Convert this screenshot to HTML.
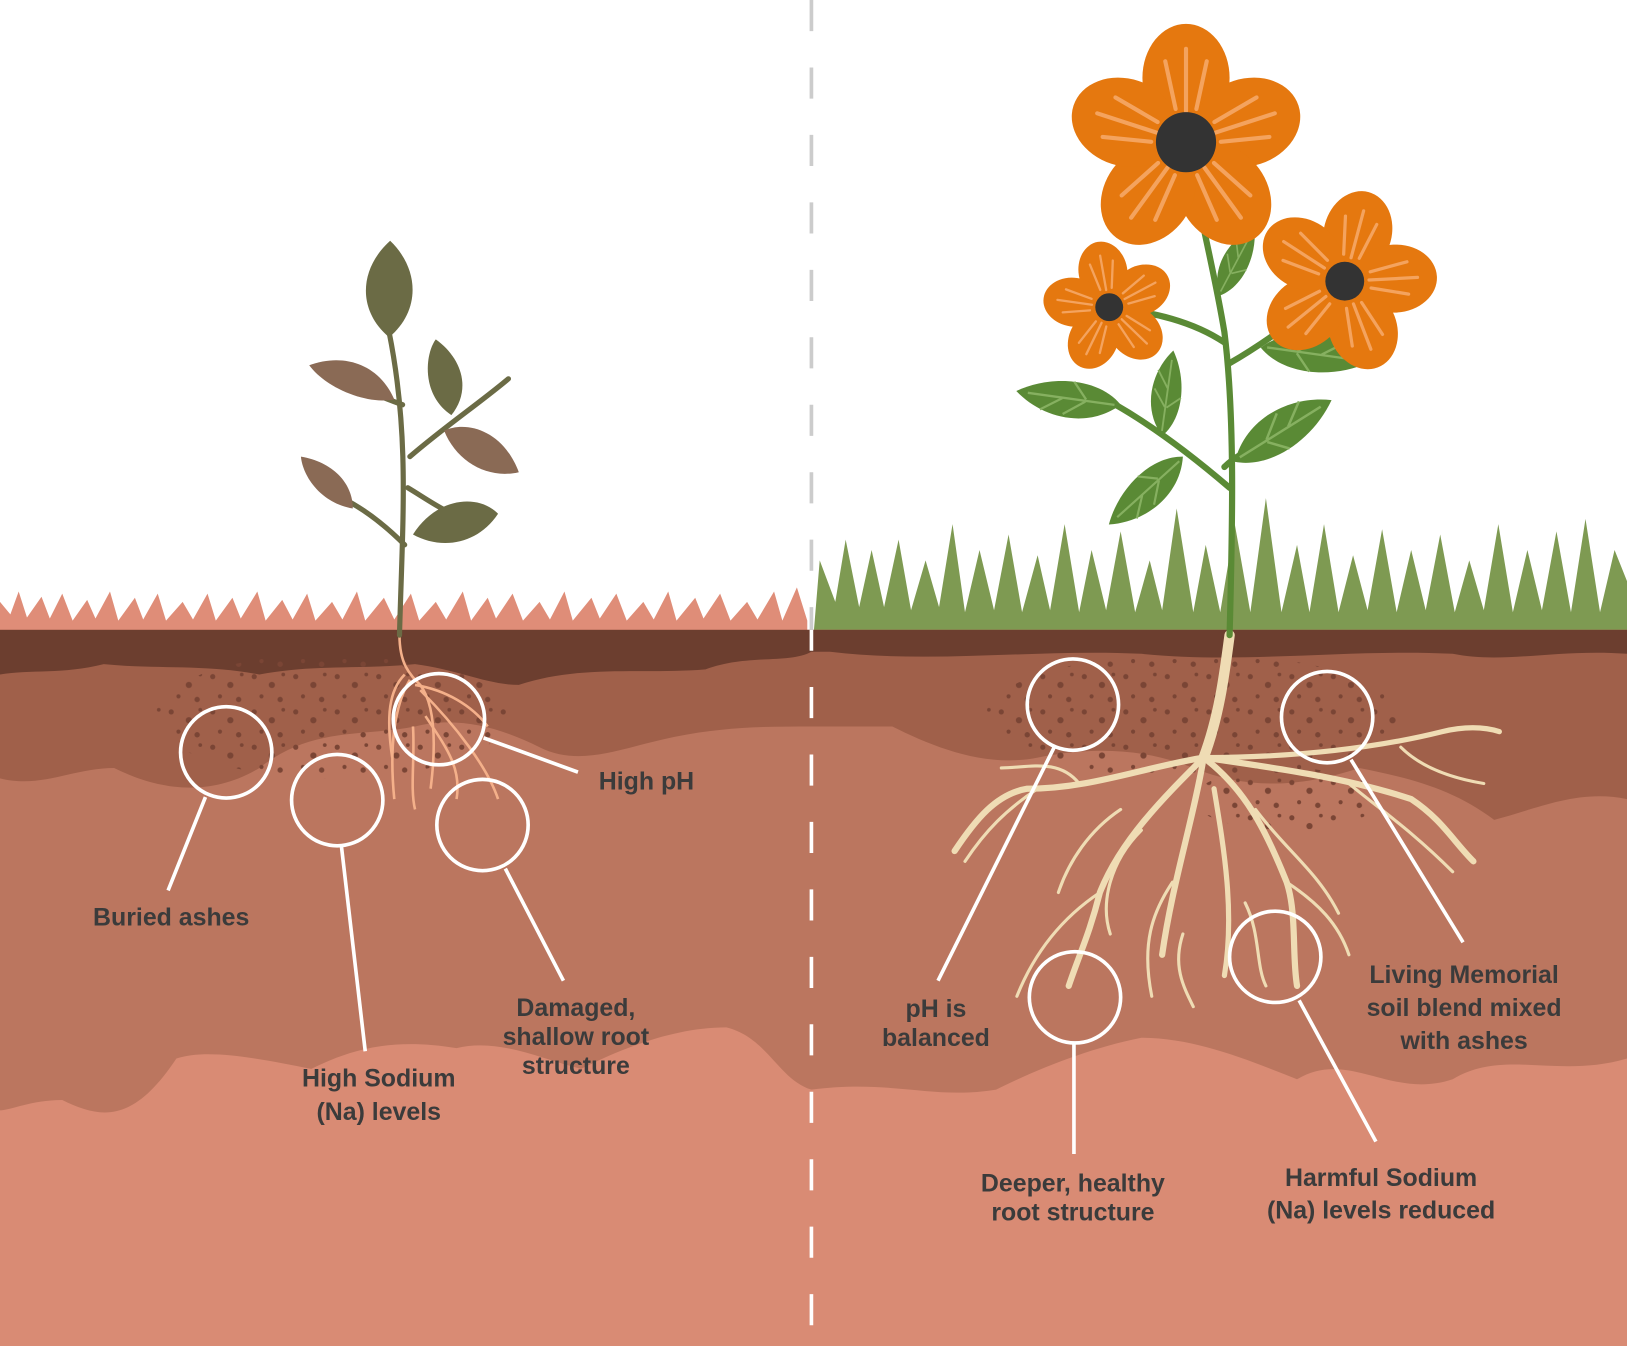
<!DOCTYPE html>
<html><head><meta charset="utf-8"><style>
html,body{margin:0;padding:0;background:#fff}
svg{display:block}
text{font-family:"Liberation Sans",sans-serif;font-weight:bold;fill:#3b3b3b;font-size:24px;text-anchor:middle}
</style></head><body>
<svg width="1627" height="1346" viewBox="0 0 1568 1297" preserveAspectRatio="none" xmlns="http://www.w3.org/2000/svg">
<defs>
<pattern id="dots" width="40" height="34" patternUnits="userSpaceOnUse">
<circle cx="5" cy="6" r="2.5" fill="#7a4535"/><circle cx="22" cy="14" r="3" fill="#7a4535"/><circle cx="33" cy="4" r="1.8" fill="#7a4535"/><circle cx="12" cy="25" r="2" fill="#7a4535"/><circle cx="30" cy="28" r="2.6" fill="#7a4535"/>
</pattern>
<g id="petal"><ellipse cx="0" cy="-62" rx="42" ry="52" fill="#e5780f"/><path d="M0 -30 L0 -90 M-10 -32 L-20 -78 M10 -32 L20 -78" stroke="#f4a35e" stroke-width="4" stroke-linecap="round"/></g>
<g id="leafG"><path d="M0 0 C20 -30 60 -35 90 -20 C65 5 25 15 0 0Z" fill="#5a8a35"/><path d="M5 -2 L80 -18 M30 -8 L45 -25 M50 -12 L65 -28 M30 -6 L45 5" stroke="#86b060" stroke-width="2"/></g>
</defs>
<rect width="1568" height="1297" fill="#fff"/>
<path d="M0 612 L0 580 L10 592 L18 570 L26 595 L40 575 L48 596 L60 572 L70 598 L84 578 L92 596 L106 570 L114 598 L130 576 L138 597 L152 572 L160 598 L176 580 L186 597 L200 572 L208 598 L224 576 L232 596 L248 570 L256 598 L272 578 L282 597 L296 572 L304 598 L320 580 L330 597 L344 570 L352 598 L370 576 L380 597 L396 572 L404 598 L420 580 L430 597 L446 570 L454 598 L470 576 L478 596 L494 572 L504 598 L520 580 L530 597 L544 570 L552 598 L570 576 L578 596 L594 572 L604 598 L620 580 L630 597 L644 570 L652 598 L670 576 L678 596 L694 572 L704 598 L720 580 L730 597 L746 570 L754 598 L768 566 L778 598 L778 612Z" fill="#df8d78"/>
<path d="M784 612 L790 540 L805 580 L815 520 L828 585 L840 530 L852 585 L866 520 L878 588 L892 540 L905 585 L918 505 L930 590 L944 530 L958 588 L972 515 L985 590 L1000 535 L1012 588 L1026 505 L1040 590 L1052 530 L1066 588 L1080 512 L1094 590 L1108 540 L1120 588 L1134 490 L1150 590 L1162 525 L1176 590 L1190 505 L1205 590 L1220 480 L1235 590 L1250 525 L1262 590 L1276 505 L1290 590 L1304 535 L1318 588 L1332 510 L1346 590 L1360 530 L1374 588 L1388 515 L1402 590 L1416 540 L1430 588 L1444 505 L1458 590 L1472 530 L1486 588 L1500 512 L1514 590 L1528 500 L1542 590 L1556 530 L1568 560 L1568 612Z" fill="#7e9a52"/>
<rect x="0" y="607" width="1568" height="690" fill="#d98b74"/>
<path d="M0 607 H1568 V1020 C1500 1040 1450 1010 1400 1040 C1340 1060 1300 1010 1250 1040 C1200 1020 1150 1000 1100 1000 C1050 1010 1000 1030 960 1050 C900 1060 860 1040 782 1050 C750 1040 740 1000 700 990 C650 990 600 1010 560 1030 C520 1020 480 1000 440 1010 C380 1000 340 1010 300 1030 C250 1020 200 1010 170 1020 C130 1080 100 1080 60 1060 C30 1060 10 1070 0 1070Z" fill="#bb765f"/>
<path d="M0 607 H1568 V770 C1520 760 1480 780 1440 790 C1400 760 1360 750 1310 740 C1250 760 1200 760 1150 740 C1100 720 1050 720 1000 730 C950 740 900 720 860 700 C820 700 800 700 782 700 C740 700 700 700 650 710 C600 720 560 740 520 720 C480 700 440 690 400 700 C350 710 300 700 250 740 C200 770 150 760 110 740 C70 740 40 760 0 750Z" fill="#a0604a"/>
<path d="M0 607 H1568 V630 C1500 625 1450 640 1400 630 C1300 625 1200 640 1100 630 C1000 625 900 640 800 628 L782 628 C760 640 720 630 680 645 C620 650 560 640 500 660 C470 660 440 645 400 640 C350 645 300 640 250 650 C200 640 150 645 100 640 C60 650 30 645 0 650Z" fill="#6c3e2f"/>
<ellipse cx="320" cy="690" rx="170" ry="60" fill="url(#dots)"/>
<ellipse cx="1150" cy="690" rx="200" ry="60" fill="url(#dots)"/>
<ellipse cx="1240" cy="770" rx="90" ry="30" fill="url(#dots)"/>
<line x1="782" y1="0" x2="782" y2="607" stroke="#cccccc" stroke-width="3.5" stroke-dasharray="30 35"/>
<line x1="782" y1="607" x2="782" y2="1297" stroke="#ffffff" stroke-width="3.5" stroke-dasharray="30 35" stroke-dashoffset="10"/>
<g fill="none" stroke="#f4b08a" stroke-width="2.5">
<path d="M385 612 C385 640 395 650 405 660 C420 680 420 720 415 760"/>
<path d="M395 655 C380 680 375 720 380 770"/>
<path d="M400 660 C430 665 455 680 470 700"/>
<path d="M405 665 C440 700 470 740 480 770"/>
<path d="M390 650 C375 665 372 690 378 730"/>
<path d="M410 690 C430 720 445 740 440 770"/>
<path d="M398 700 C400 730 395 760 400 780"/>
</g>
<g stroke="#6b6b45" stroke-width="5" fill="none" stroke-linecap="round">
<path d="M385 612 C388 500 395 420 375 320"/>
<path d="M395 440 C430 410 460 390 490 365"/>
<path d="M388 390 C360 380 340 370 320 365"/>
<path d="M390 525 C370 505 350 490 330 480"/>
<path d="M393 470 C410 480 430 495 450 500"/>
</g>
<path d="M375 325 C345 300 345 260 376 232 C405 260 405 300 375 325Z" fill="#6b6b45"/>
<path d="M435 400 C405 380 410 340 420 327 C445 345 455 375 435 400Z" fill="#6b6b45"/>
<path d="M380 385 C355 390 315 375 298 352 C330 340 365 350 380 385Z" fill="#8a6a55"/>
<path d="M428 415 C450 405 485 415 500 455 C470 462 440 445 428 415Z" fill="#8a6a55"/>
<path d="M340 490 C310 485 292 460 290 440 C320 445 340 465 340 490Z" fill="#8a6a55"/>
<path d="M398 515 C420 480 460 475 480 495 C460 525 425 530 398 515Z" fill="#6b6b45"/>
<g fill="none" stroke="#efdcb4" stroke-linecap="round">
<path d="M1185 612 C1180 650 1175 690 1160 730" stroke-width="10"/>
<path d="M1160 730 C1100 740 1050 760 990 760 C960 765 940 790 920 820" stroke-width="6"/>
<path d="M1160 730 C1120 770 1080 810 1060 860 C1050 900 1040 920 1030 950" stroke-width="6"/>
<path d="M1160 730 C1150 790 1130 850 1120 920" stroke-width="6"/>
<path d="M1160 730 C1200 760 1220 800 1240 850 C1250 880 1245 920 1250 950" stroke-width="6"/>
<path d="M1160 730 C1230 740 1300 750 1360 770 C1390 790 1400 810 1420 830" stroke-width="6"/>
<path d="M1160 730 C1250 730 1330 720 1390 705 C1410 700 1430 700 1445 705" stroke-width="5"/>
<path d="M1170 760 C1180 820 1190 880 1180 940" stroke-width="5"/>
<path d="M1060 860 C1030 880 1000 910 980 960" stroke-width="3"/>
<path d="M1040 755 C1020 730 990 740 965 740" stroke-width="3"/>
<path d="M1000 760 C970 780 950 800 930 830" stroke-width="3"/>
<path d="M1100 800 C1070 830 1060 870 1070 900" stroke-width="3"/>
<path d="M1130 850 C1110 880 1100 910 1110 960" stroke-width="3"/>
<path d="M1240 850 C1270 870 1290 890 1300 920" stroke-width="3"/>
<path d="M1300 755 C1330 780 1360 800 1400 840" stroke-width="3"/>
<path d="M1350 720 C1370 740 1400 750 1430 755" stroke-width="3"/>
<path d="M1210 780 C1240 820 1270 840 1290 880" stroke-width="3"/>
<path d="M1080 780 C1050 800 1030 830 1020 860" stroke-width="3"/>
<path d="M1140 900 C1130 930 1140 950 1150 970" stroke-width="3"/>
<path d="M1200 870 C1215 900 1210 930 1220 950" stroke-width="3"/>
</g>
<g stroke="#5a8a35" stroke-width="6" fill="none" stroke-linecap="round">
<path d="M1185 612 C1188 500 1190 400 1180 320 C1170 260 1155 200 1145 150"/>
<path d="M1185 470 C1150 440 1110 410 1075 390"/>
<path d="M1180 330 C1150 310 1110 300 1075 298"/>
<path d="M1185 350 C1220 330 1260 300 1290 275"/>
<path d="M1180 450 C1190 440 1200 435 1215 430"/>
</g>
<use href="#leafG" transform="translate(1080 390) rotate(200) scale(1.1)"/>
<use href="#leafG" transform="translate(1140 440) rotate(150) scale(1.05)"/>
<use href="#leafG" transform="translate(1190 445) rotate(-20) scale(1.2)"/>
<use href="#leafG" transform="translate(1215 335) rotate(20) scale(1.15)"/>
<use href="#leafG" transform="translate(1175 285) rotate(-50) scale(0.8)"/>
<use href="#leafG" transform="translate(1120 420) rotate(-70) scale(0.9)"/>
<g transform="translate(1143 137)">
<use href="#petal" transform="rotate(0)"/><use href="#petal" transform="rotate(72)"/><use href="#petal" transform="rotate(144)"/><use href="#petal" transform="rotate(216)"/><use href="#petal" transform="rotate(288)"/>
<circle r="29" fill="#333"/>
</g>
<g transform="translate(1296 271) scale(0.78)">
<use href="#petal" transform="rotate(15)"/><use href="#petal" transform="rotate(87)"/><use href="#petal" transform="rotate(159)"/><use href="#petal" transform="rotate(231)"/><use href="#petal" transform="rotate(303)"/>
<circle r="24" fill="#333"/>
</g>
<g transform="translate(1069 296) scale(0.56)">
<use href="#petal" transform="rotate(-10)"/><use href="#petal" transform="rotate(62)"/><use href="#petal" transform="rotate(134)"/><use href="#petal" transform="rotate(206)"/><use href="#petal" transform="rotate(278)"/>
<circle r="24" fill="#333"/>
</g>
<g fill="none" stroke="#fff" stroke-width="3.5">
<circle cx="218" cy="725" r="44"/><circle cx="325" cy="771" r="44"/><circle cx="423" cy="693" r="44"/><circle cx="465" cy="795" r="44"/>
<circle cx="1034" cy="679" r="44"/><circle cx="1279" cy="691" r="44"/><circle cx="1036" cy="961" r="44"/><circle cx="1229" cy="922" r="44"/>
<path d="M198 768 L162 858 M329 815 L352 1013 M466 711 L557 744 M487 837 L543 945"/>
<path d="M1016 720 L904 945 M1302 732 L1410 908 M1035 1005 L1035 1112 M1252 964 L1326 1100"/>
</g>
<text x="165" y="892">Buried ashes</text>
<text x="365" y="1047">High Sodium</text><text x="365" y="1079">(Na) levels</text>
<text x="555" y="979">Damaged,</text><text x="555" y="1007">shallow root</text><text x="555" y="1035">structure</text>
<text x="623" y="761">High pH</text>
<text x="902" y="980">pH is</text><text x="902" y="1008">balanced</text>
<text x="1034" y="1148">Deeper, healthy</text><text x="1034" y="1176">root structure</text>
<text x="1331" y="1143">Harmful Sodium</text><text x="1331" y="1174">(Na) levels reduced</text>
<text x="1411" y="947">Living Memorial</text><text x="1411" y="979">soil blend mixed</text><text x="1411" y="1011">with ashes</text>
</svg>
</body></html>
